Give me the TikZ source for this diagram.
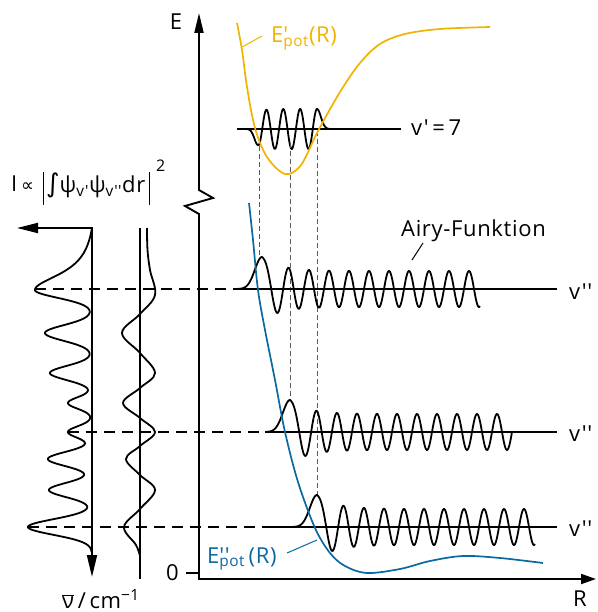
\documentclass[tikz,border=0pt]{standalone}
\usepackage{fontspec}
\setmainfont{Open Sans}[Ligatures=TeXOff, LetterSpace=3]
\newfontfamily\symf{DejaVu Sans}
\usetikzlibrary{arrows.meta}
\definecolor{potY}{RGB}{240,180,0}
\definecolor{potB}{RGB}{10,105,160}
\newcommand\airywave[4]{% line y, start x, first peak x, end x
  \draw[wave] plot[domain=#2:#4, samples=450]
    (\x, {#1 - ((\x<#3) ? 32*gs(\x,#3,10) : (18+14*exp(-(\x-#3)/18))*cos(18*((\x-#3) - 7*(1-exp(-(\x-#3)/10)))))});
}
\begin{document}
\begin{tikzpicture}[x=1pt,y=-1pt,
  ax/.style={line width=1.9pt, line join=miter},
  wave/.style={line width=1.8pt, line join=round},
  lvl/.style={line width=2pt},
  hdash/.style={line width=1.8pt, dash pattern=on 11pt off 7pt},
  vdash/.style={line width=0.8pt, black!65, dash pattern=on 5pt off 3pt},
  lbl/.style={font=\fontsize{22}{26}\selectfont, inner sep=0pt},
  potline/.style={line width=1.7pt},
  declare function={gs(\vv,\mm,\ww)=exp(-min(((\vv-\mm)/\ww)^2,9));}
]
\useasboundingbox (0,0) rectangle (597,612);

% ---------- main axes ----------
\draw[ax, {Triangle[length=15pt,width=10pt]}-{Triangle[length=20pt,width=9pt]}]
  (596,579) -- (199,579) -- (199,214) -- (185,206) -- (213,198) -- (199,190) -- (199,13);
\node[lbl] (Elbl) at (176,22) {E};
\node[lbl] (Rlbl) at (580,599) {R};
\node[lbl, anchor=base east] (zero) at (179,580) {0};
\draw[ax] (186,573) -- (199,573);

% ---------- v'=7 level ----------
\draw[lvl] (237,129) -- (401,129);
\draw[wave] plot[domain=244:332, samples=300]
  (\x, {129 - ((\x<258) ? -16*gs(\x,258,5) : ((\x>317) ? 20*gs(\x,317,5.5) : -(20-4*exp(-(\x-258)/5))*cos(180*(\x-258)/8.4286)))});
\node[lbl, anchor=base west] (vseven) at (411,136) {v'\,=\,7};

% ---------- vertical dashed projections ----------
\draw[vdash] (259,146) -- (259,258);
\draw[vdash] (290,143) -- (290,400);
\draw[vdash] (317,131) -- (317,496);

% ---------- v'' levels ----------
\draw[hdash] (35,289) -- (237,289);
\draw[hdash] (68,432) -- (265,432);
\draw[hdash] (28,527) -- (265,527);
\draw[lvl] (237,289) -- (557,289);
\draw[lvl] (265,432) -- (557,432);
\draw[lvl] (265,527) -- (557,527);
\airywave{289}{237}{262}{480}
\airywave{432}{266}{290}{512}
\airywave{527}{292}{317}{535}
\node[lbl, anchor=west] (vA) at (569,292) {v''};
\node[lbl, anchor=west] (vB) at (569,434) {v''};
\node[lbl, anchor=west] (vC) at (569,529) {v''};

\node[lbl, anchor=base west] (airy) at (401,236) {Airy-Funktion};
\draw[line width=1pt] (412,260) -- (423,243);

% ---------- potentials ----------
\draw[potY, potline] plot[smooth, tension=0.55] coordinates {
  (237,23) (242,50) (247,87) (255,128) (267,157) (285,174) (301,165)
  (318,131) (340,92) (360,63) (380,44) (405,34) (440,29) (490,27)};
\draw[potY, line width=1pt] (242,47) -- (262,36);
\node[lbl, anchor=base west, text=potY] (Eup) at (271,43) {E\rlap{'}\textsubscript{pot}(R)};

\draw[potB, potline] plot[smooth, tension=0.55] coordinates {
  (249,203) (253,240) (258,290) (265,330) (275,380) (285,432) (298,482)
  (315,528) (330,553) (345,566) (367,573) (400,569) (430,561) (463,556)
  (500,558) (543,563)};
\draw[potB, line width=1pt] (287,553) -- (317,540);
\node[lbl, anchor=base west, text=potB] (Elow) at (207,563) {E\rlap{''}\textsubscript{pot}\,(R)};

% ---------- spectrum (left) ----------
\draw[ax, {Triangle[length=21pt,width=10pt]}-{Triangle[length=22pt,width=10pt]}]
  (17,228) -- (92,228) -- (92,577);
\draw[wave] plot[domain=228:552, samples=500]
  ({92 - (((\x<290) ? 57*(1/(1+((290-\x)/20)^2) - 0.0943)/0.9057 : 57*gs(\x,290,11))
     + 47*gs(\x,333,11) + 42*gs(\x,373,10) + 24*gs(\x,403,8) + 24*gs(\x,432,8)
     + 44*gs(\x,459,10) + 43*gs(\x,490,10) + 64*gs(\x,527,11))}, \x);

\draw[ax] (140,228) -- (140,579);
\draw[wave] plot[smooth, tension=0.6] coordinates {
  (147,228) (147.5,250) (150,270) (155,295) (140,314) (122,333) (140,353)
  (155,373) (140,388) (123,403) (140,418) (155,432) (140,446) (126,459)
  (140,475) (155,490) (140,509) (124,527) (136,545) (140,556)};

% ---------- formula ----------
\node[lbl, anchor=base west] (fI) at (11,192) {I\,{\symf\fontsize{18}{20}\selectfont ∝}};
\draw[line width=1pt] (43,172) -- (43,205);
\node[lbl, anchor=base west] (fint) at (46,193) {{\symf\fontsize{26}{28}\selectfont ∫}ψ\textsubscript{v'}ψ\textsubscript{v''}dr};
\draw[line width=1pt] (149,172) -- (149,205);
\node[lbl, anchor=base west] (fsq) at (156,172) {\fontsize{16}{18}\selectfont 2};

% ---------- bottom label ----------
\node[lbl, anchor=base west] (nu) at (62,608) {$\overline{\hbox{ν}}$\,/\,cm\textsuperscript{−1}};
\end{tikzpicture}
\end{document}
